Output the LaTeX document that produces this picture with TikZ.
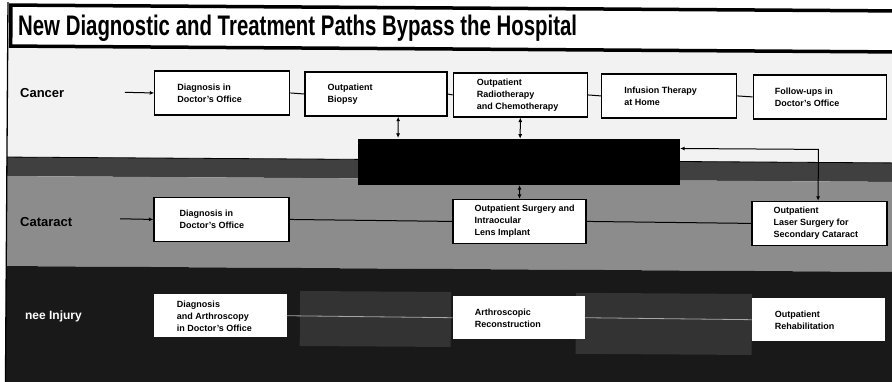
\documentclass[tikz,border=0pt]{standalone}
\usepackage{fontspec}
\usepackage{graphicx}
\setmainfont{Liberation Sans}
\usetikzlibrary{arrows.meta,calc}
\begin{document}
\begin{tikzpicture}[x=1pt,y=-1pt,
  box/.style={draw, line width=1.2pt, fill=white, minimum height=44, minimum width=135, inner sep=0},
  kbox/.style={fill=white, minimum height=43, minimum width=133, inner sep=0},
  txt/.style={anchor=west, align=left, inner sep=0, font=\fontsize{9}{12}\selectfont\bfseries},
  lab/.style={anchor=base west, inner sep=0, font=\fontsize{13}{13}\selectfont\bfseries},
  conn/.style={draw, line width=1pt},
  tip/.style={-{Latex[length=4.5pt,width=4pt]}},
  dbl/.style={{Latex[length=4.5pt,width=4pt]}-{Latex[length=4.5pt,width=4pt]}}
]
\useasboundingbox (0,0) rectangle (892,381);
\fill[white] (0,0) rectangle (892,381);
\begin{scope}[rotate=-0.38]
  % bands
  \fill[black!5] (8,46) rectangle (905,157);
  \fill[black!75] (8,157) rectangle (905,176);
  \draw[line width=0.8pt] (8,157) -- (905,157);
  \fill[black!45] (8,176) rectangle (905,266);
  \fill[black!90] (8,266) rectangle (905,395);
  \fill[black!80] (302,289) rectangle (453,344);
  \fill[black!80] (578,289) rectangle (754,350);
  % left border and title box
  \draw[line width=1.3pt] (8,2) -- (8,395);
  \draw[line width=3.5pt, fill=white] (11,5) rectangle (910,46);
  \node[anchor=base west, inner sep=0] (title) at (18.2,35)
    {\resizebox{559pt}{20.5pt}{\bfseries New Diagnostic and Treatment Paths Bypass the Hospital}};
  % row labels
  \node[lab] (lcancer) at (20.6,97) {Cancer};
  \node[lab] (lcat) at (21.5,226) {Cataract};
  \node[lab, text=white, font=\fontsize{12}{12}\selectfont\bfseries] (lknee) at (27,319) {nee Injury};
  % hub
  \node[fill=black, minimum width=322, minimum height=46, inner sep=0] (hub) at (520,158.5) {};
  % cancer row
  \node[box] (c1) at (223,91.5) {};
  \node[box, minimum width=142] (c2) at (376.6,91.5) {};
  \node[box, minimum width=134] (c3) at (521,91.5) {};
  \node[box] (c4) at (670,91.5) {};
  \node[box, minimum width=133] (c5) at (820.5,91.5) {};
  \node[txt] (c1t) at ($(c1.west)+(23,0)$) {Diagnosis in\\Doctor's Office};
  \node[txt] (c2t) at ($(c2.west)+(23,0)$) {Outpatient\\Biopsy};
  \node[txt] (c3t) at ($(c3.west)+(24,0)$) {Outpatient\\Radiotherapy\\and Chemotherapy};
  \node[txt] (c4t) at ($(c4.west)+(23,0)$) {Infusion Therapy\\at Home};
  \node[txt] (c5t) at ($(c5.west)+(22,0)$) {Follow-ups in\\Doctor's Office};
  % cataract row
  \node[box] (t1) at (223,218) {};
  \node[box, minimum width=133] (t2) at (521,218) {};
  \node[box] (t3) at (821,218) {};
  \node[txt] (t1t) at ($(t1.west)+(26,0)$) {Diagnosis in\\Doctor's Office};
  \node[txt] (t2t) at ($(t2.west)+(22,0)$) {Outpatient Surgery and\\Intraocular\\Lens Implant};
  \node[txt] (t3t) at ($(t3.west)+(22,0)$) {Outpatient\\Laser Surgery for\\Secondary Cataract};
  % knee row
  \node[kbox] (k1) at (222.6,314.3) {};
  \node[kbox, minimum width=132] (k2) at (521,314.3) {};
  \node[kbox] (k3) at (820.6,314.3) {};
  \node[txt] (k1t) at ($(k1.west)+(23,0)$) {Diagnosis\\and Arthroscopy\\in Doctor's Office};
  \node[txt] (k2t) at ($(k2.west)+(22,0)$) {Arthroscopic\\Reconstruction};
  \node[txt] (k3t) at ($(k3.west)+(23,0)$) {Outpatient\\Rehabilitation};
  % connectors
  \coordinate (s1) at (125.6,91.5);
  \coordinate (s2) at (121.5,218);
  \coordinate (a1) at (399,0);
  \coordinate (bend) at (819.5,144);
  \draw[conn, tip] (s1) -- (c1.west);
  \draw[conn] (c1.east) -- (c2.west);
  \draw[conn] (c2.east) -- (c3.west);
  \draw[conn] (c3.east) -- (c4.west);
  \draw[conn] (c4.east) -- (c5.west);
  \draw[conn, dbl] (c2.south -| a1) -- (hub.north -| a1);
  \draw[conn, dbl] (c3.south) -- (hub.north -| c3.south);
  \draw[conn, dbl] (hub.south -| t2.north) -- (t2.north);
  \draw[conn, dbl] (hub.east |- bend) -- (bend) -- (bend |- t3.north);
  \draw[conn, tip] (s2) -- (t1.west);
  \draw[conn] (t1.east) -- (t2.west);
  \draw[conn] (t2.east) -- (t3.west);
  \draw[black!35, line width=0.8pt] (k1.east) -- (k2.west);
  \draw[black!35, line width=0.8pt] (k2.east) -- (k3.west);
\end{scope}
\end{tikzpicture}
\end{document}
